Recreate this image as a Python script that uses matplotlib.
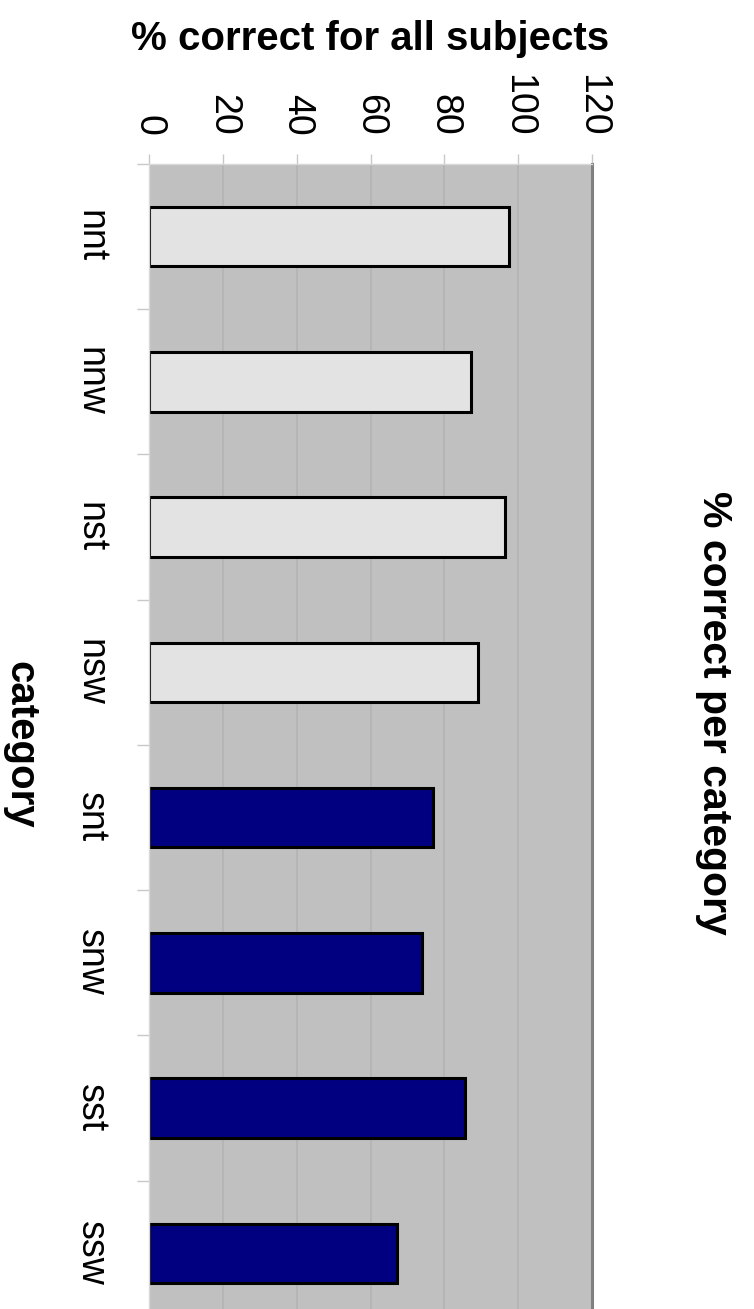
import numpy as np
import matplotlib
matplotlib.use("Agg")
import matplotlib.pyplot as plt

plt.rcParams["font.family"] = ["Liberation Sans", "DejaVu Sans"]

categories = ["nnt", "nnw", "nst", "nsw", "snt", "snw", "sst", "ssw"]
pct_correct = [97.6, 87.2, 96.3, 89.0, 76.8, 74.0, 85.6, 67.1]
bar_colors = ["#e3e3e3"] * 4 + ["#000080"] * 4
x_ticks = [0, 20, 40, 60, 80, 100, 120]

W, H = 754, 1309
fig = plt.figure(figsize=(W / 100, H / 100), dpi=100)
# plot area runs past the bottom edge of the picture
left, right, top, bottom = 149, 592, 164, 1326
ax = fig.add_axes([left / W, 1 - bottom / H, (right - left) / W, (bottom - top) / H])
ax.set_facecolor("#c0c0c0")

y = np.arange(len(categories))
ax.barh(y, pct_correct, height=0.41, color=bar_colors, edgecolor="black", linewidth=2.2)

ax.set_xlim(0, 120)
ax.set_ylim(len(categories) - 0.5, -0.5)
ax.set_axisbelow(True)
ax.xaxis.grid(True, color="#b3b3b3", linewidth=1.2)

# value axis on top, labels rotated to read downwards
ax.xaxis.tick_top()
ax.xaxis.set_label_position("top")
ax.set_xticks(x_ticks)
ax.set_xticklabels([str(v) for v in x_ticks], rotation=-90)
ax.tick_params(axis="x", direction="out", length=7, width=1, color="#c8c8c8",
               labelsize=27, pad=13)
ax.set_xlabel("% correct for all subjects", fontsize=29, fontweight="bold", labelpad=17)

# category labels between boundary ticks
ax.set_yticks(y)
ax.set_yticklabels(categories, rotation=-90, va="center")
ax.tick_params(axis="y", which="major", length=0, labelsize=27, pad=29)
ax.set_yticks(np.arange(-0.5, len(categories), 1), minor=True)
ax.tick_params(axis="y", which="minor", direction="out", length=8.5, width=1, color="#c8c8c8")
ax.set_ylabel("category", fontsize=29, fontweight="bold", rotation=-90, va="center", ha="center")
ax.yaxis.set_label_coords((20 - left) / (right - left), 0.5)

for side in ["left", "top"]:
    ax.spines[side].set_color("#d8d8d8")
    ax.spines[side].set_linewidth(1)
ax.spines["right"].set_color("#808080")
ax.spines["right"].set_linewidth(2.2)
ax.spines["bottom"].set_visible(False)

fig.text(714 / W, 1 - 713 / H, "% correct per category", rotation=-90,
         ha="center", va="center", fontsize=29.5, fontweight="bold")

fig.savefig("out.png", dpi=100)
